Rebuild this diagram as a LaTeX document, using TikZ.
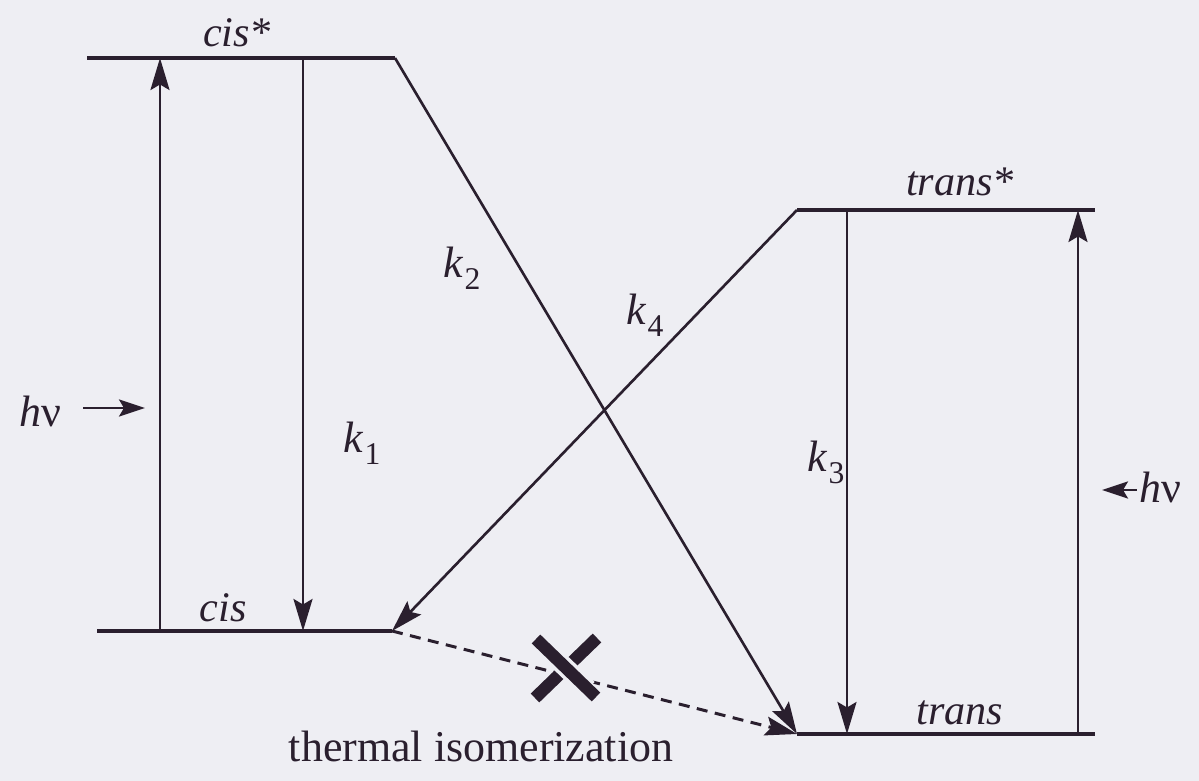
\documentclass[tikz,border=0pt]{standalone}
\usepackage{fontspec}
\setmainfont{Liberation Serif}
\usetikzlibrary{arrows.meta,calc}
\definecolor{InkDark}{HTML}{2A1F2E}
\definecolor{ScanPaper}{HTML}{EEEEF3}
\tikzset{
  energy level/.style = {draw=InkDark, line width=1.8pt, line cap=butt},
  photo arrow/.style = {-{Stealth[length=6.4mm,width=3.8mm,inset=1.1mm]}, draw=InkDark, line width=1.5pt},
  light arrow/.style = {-{Stealth[length=5.2mm,width=3.4mm,inset=1.0mm]}, draw=InkDark, line width=1.5pt},
  thermal path/.style = {photo arrow, line width=1.7pt, dash pattern=on 2.2mm off 1.5mm},
  state label/.style = {font=\fontsize{24}{28}\selectfont\itshape, text=InkDark, inner sep=0pt, anchor=base},
  rate label/.style = {font=\fontsize{25}{28}\selectfont, text=InkDark, inner sep=0pt, anchor=base},
  caption label/.style = {font=\fontsize{25}{30}\selectfont, text=InkDark, inner sep=0pt, anchor=base},
  block bar/.style = {draw=InkDark, line width=7pt, line cap=butt},
  block gap/.style = {draw=ScanPaper, line width=11pt, line cap=butt},
}
\newcommand{\rateconst}[1]{\textit{k}\kern0.5pt\raisebox{-0.55ex}{\fontsize{18}{18}\selectfont #1}}
\newcommand{\photon}{\textit{h}ν}

\begin{document}
\begin{tikzpicture}[x=0.2mm,y=-0.2mm]
  \fill[ScanPaper] (0,0) rectangle (1199,781);
  \useasboundingbox (0,0) rectangle (1199,781);

  \coordinate (cisS-w) at (87,58);
  \coordinate (cisS-e) at (395,58);
  \coordinate (cis-w) at (97,631);
  \coordinate (cis-e) at (392,631);
  \coordinate (transS-w) at (797,210);
  \coordinate (transS-e) at (1095,210);
  \coordinate (trans-w) at (797,734);
  \coordinate (trans-e) at (1095,734);

  \draw[energy level] (cisS-w) -- (cisS-e);
  \draw[energy level] (cis-w) -- (cis-e);
  \draw[energy level] (transS-w) -- (transS-e);
  \draw[energy level] (trans-w) -- (trans-e);

  \node[state label] (cisS) at (237,47) {cis*};
  \node[state label] (cis) at (223,622) {cis};
  \node[state label] (transS) at (960,196) {trans*};
  \node[state label] (trans) at (960,725) {trans};

  \draw[photo arrow] (cis-w-|160,0) -- (cisS-w-|160,0);
  \draw[photo arrow] (cisS-w-|303,0) -- (cis-w-|303,0);
  \draw[photo arrow] (trans-w-|1078,0) -- (transS-w-|1078,0);
  \draw[photo arrow] (transS-w-|847,0) -- (trans-w-|847,0);
  \draw[photo arrow] (cisS-e) -- (trans-w);
  \draw[photo arrow] (transS-w) -- (cis-e);

  \node[rate label] (k1) at (362,453) {\rateconst{1}};
  \node[rate label] (k2) at (462,278) {\rateconst{2}};
  \node[rate label] (k3) at (826,472) {\rateconst{3}};
  \node[rate label] (k4) at (645,325) {\rateconst{4}};

  \node[rate label] (hvL) at (40,427) {\photon};
  \node[rate label] (hvR) at (1160,503) {\photon};
  \coordinate (hvL-tip) at (145,408);
  \coordinate (hvR-tip) at (1102,490);
  \draw[light arrow] (hvL.east|-hvL-tip) ++(22,0) -- (hvL-tip);
  \draw[light arrow] (hvR.west|-hvR-tip) ++(-2,0) -- (hvR-tip);

  \draw[thermal path] (cis-e) -- (trans-w);
  \coordinate (block) at (566,668);
  \draw[block bar] ($(block)+(-31,30)$) -- ($(block)+(31,-30)$);
  \draw[block gap] ($(block)+(-22,-21)$) -- ($(block)+(22,21)$);
  \draw[block bar] ($(block)+(-30,-29)$) -- ($(block)+(30,29)$);

  \node[caption label] (thermal) at (481,762) {thermal isomerization};
\end{tikzpicture}
\end{document}
